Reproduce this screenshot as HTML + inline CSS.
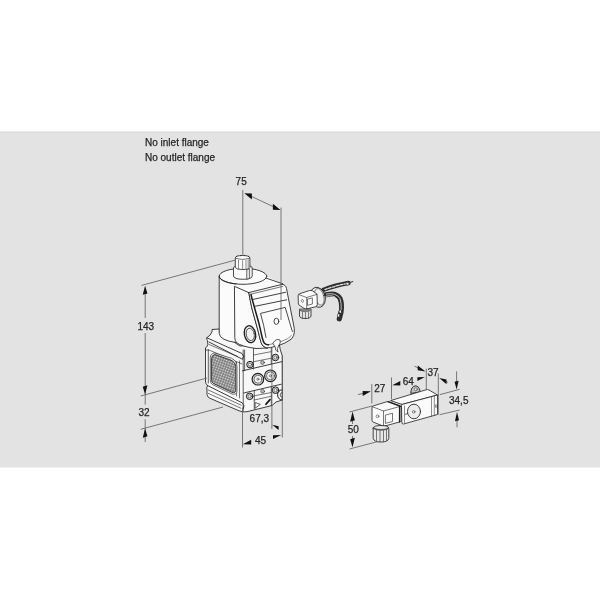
<!DOCTYPE html>
<html><head><meta charset="utf-8">
<style>
html,body{margin:0;padding:0;width:600px;height:600px;background:#fff;overflow:hidden}
#band{position:absolute;left:0;top:131px;width:600px;height:337px;background:linear-gradient(to bottom,#ececec 0,#ececec 1px,#dcdcdc 1px,#dcdcdc 2px,#e3e3e3 2px,#e3e3e3 336px,#efefef 336px)}
svg{position:absolute;left:0;top:0;will-change:transform}
text{font-family:"Liberation Sans",sans-serif;font-size:10px;fill:#262626;stroke:#262626;stroke-width:0.25px}
</style></head><body>
<div id="band"></div>
<svg width="600" height="600" viewBox="0 0 600 600">
<g id="labels">
<text x="145" y="146">No inlet flange</text>
<text x="145" y="160.7">No outlet flange</text>
</g>
<defs>
<pattern id="mesh" width="2.5" height="2.5" patternUnits="userSpaceOnUse" patternTransform="rotate(20)">
<rect width="2.6" height="2.6" fill="#5e5e5e"/><rect x="0.45" y="0.45" width="1.7" height="1.7" fill="#e2e2e2"/>
</pattern>
</defs>
<g id="body" stroke="#1e1e1e" stroke-width="0.85" fill="#f8f8f8" stroke-linejoin="round" stroke-linecap="round">
<!-- body silhouette -->
<path d="M219,329 L212,329.5 L212,331.75 L210.1,335.1 L206.75,337.75 Q206.5,339.5 207.5,340.75 L207.9,344.5 Q207.2,346.5 205.5,348 L205.5,381 Q205.5,384 207.5,385.5 Q206.3,388 207,390 L207,394.5 Q207.5,397.5 210,398.3 L239,410.8 Q243,412.5 247,411.7 L272,405.5 L276,402 L282.3,400 L282.3,356 Q280,350 279,343 L240,346 L220,333 Z"/>
<!-- top flange ribs -->
<path d="M206.9,337.8 L242,353.5 Q245,356 242.5,359.3 L209,342" fill="none"/>
<path d="M209,344.5 L237.5,356.5 M208.5,349.8 L242,364" fill="none" stroke-width="0.6"/>
<path d="M208.3,350 L208.3,383 M205.5,350 L208.3,350" fill="none" stroke-width="0.7"/>
<path d="M236.5,362 L236.5,396 M239.5,361 L239.5,398" fill="none" stroke-width="0.6"/>
<!-- mesh frame + mesh -->
<path d="M214,353 Q210.3,353.5 210.3,357.5 L210.3,381 Q210.3,383.5 213,384.8 L232,394 Q237,395.3 237,391 L237,366.5 Q237,361 232,358.5 Z" fill="#ececec" stroke-width="0.6"/>
<path d="M214.5,354.6 Q211.6,355.2 211.6,358.5 L211.6,380.5 Q211.6,382.5 214,383.7 L232,392.3 Q235.8,393.3 235.8,390.2 L235.8,367 Q235.8,362.3 231,360.2 Z" fill="url(#mesh)" stroke="#2a2a2a" stroke-width="0.9"/>
<!-- bottom flange -->
<path d="M207.5,385.5 L242,402.75 Q245.3,405 243.5,408.5" fill="none"/>
<path d="M208.3,390 L241.2,405.2 M208.3,393.4 L240.9,408.2" fill="none" stroke-width="0.6"/>
<!-- front face structure -->
<path d="M243.2,350 L243.2,411 M244.6,350 L244.6,370.5" fill="none" stroke-width="0.7"/>
<path d="M253.5,347 L253.5,369" fill="none" stroke-width="0.7"/>
<path d="M271.3,344 L271.3,364" fill="none" stroke-width="0.7"/>
<path d="M253.75,355 L270.8,351.7 M253.75,361.7 L270.8,358.3" fill="none" stroke-width="0.6"/>
<path d="M242.5,370.8 L281.7,361.7" fill="none"/>
<path d="M243.8,393 L281.3,384.2" fill="none"/>
<path d="M254.25,391 L254.25,409 M271.3,387 L271.3,405.5" fill="none" stroke-width="0.7"/>
<path d="M254.25,395.8 L271.3,392.5 M254.25,400 L271.3,396.25" fill="none" stroke-width="0.6"/>
<!-- screws -->
<g fill="#d6d6d6" stroke-width="1">
<circle cx="250" cy="364.6" r="3.3"/><circle cx="250" cy="364.6" r="1.6" fill="#eee" stroke-width="0.5"/>
<circle cx="275.4" cy="357.5" r="3.3"/><circle cx="275.4" cy="357.5" r="1.6" fill="#eee" stroke-width="0.5"/>
<circle cx="249.7" cy="396.3" r="3.3"/><circle cx="249.7" cy="396.3" r="1.6" fill="#eee" stroke-width="0.5"/>
<circle cx="275.5" cy="390.2" r="3.3"/><circle cx="275.5" cy="390.2" r="1.6" fill="#eee" stroke-width="0.5"/>
</g>
<circle cx="262.5" cy="362.5" r="1.9" fill="#bbb" stroke-width="0.5"/>
<circle cx="262.6" cy="391.3" r="1.9" fill="#bbb" stroke-width="0.5"/>
<!-- knobs -->
<circle cx="257.9" cy="379.2" r="5.8" fill="#dedede" stroke-width="1.15"/>
<circle cx="257.9" cy="379.2" r="3.9" fill="#f4f4f4" stroke-width="0.6"/>
<circle cx="257.9" cy="379.2" r="1.1" fill="none" stroke-width="0.5"/>
<circle cx="270.4" cy="375.8" r="5.8" fill="#dedede" stroke-width="1.15"/>
<circle cx="270.4" cy="375.8" r="3.9" fill="#f4f4f4" stroke-width="0.6"/>
<circle cx="270.4" cy="375.8" r="1.1" fill="none" stroke-width="0.5"/>
<!-- clip -->
<path d="M282.3,389.8 Q277.6,390.3 277.6,394.8 Q277.6,399.6 282.3,400" fill="none" stroke-width="1"/>
<path d="M282.3,392.3 Q280.2,392.7 280.2,394.9 Q280.2,397.2 282.3,397.5" fill="none" stroke-width="0.7"/>
<!-- symbols -->
<path d="M255.1,402.9 L255.1,408.3 L260,404.6 Z" fill="none" stroke-width="0.7"/>
<path d="M266,404.2 L270,399.6" stroke-width="1.8"/>
</g>
<g id="coil" stroke="#1e1e1e" stroke-width="0.85" fill="#fbfbfb" stroke-linejoin="round" stroke-linecap="round">
<!-- cylinder -->
<path d="M219.2,276.3 L219.2,333.5 Q220,340.5 236,342.5 L266.8,343 L266.8,276.3 Z" stroke="none"/>
<path d="M219.2,276.3 L219.2,333.5 Q220,340.5 236,342.5" fill="none"/>
<ellipse cx="243" cy="276.3" rx="23.8" ry="8"/>
<!-- housing top face -->
<path d="M234.8,286.5 L238,282 L266.8,276.3 L281.5,283.2 Q284,283.8 283,284.5 L248.4,292.4 Z" stroke="none"/>
<path d="M219.2,276.3 A23.8,8 0 0 0 266.8,276.3" fill="none"/>
<path d="M265.8,278 L281.5,283.4 Q284,283.8 283,284.5" fill="none"/>
<!-- housing left face -->
<path d="M234.8,286.5 L248.8,292.6 Q250.3,301 251.8,308 L257,327 Q258.8,333.5 259.8,338 Q261,344 263,346 Q265,348.3 268,348 L256,348.5 Q241,346.5 236.5,342.5 Q234.8,340.5 234.8,338 Z"/>
<!-- front face -->
<path d="M248.8,292.6 L282,284.4 Q285.5,284.4 286.5,288.5 L294.3,328.5 Q295,337 290,340 Q285,343.5 279,345.3 L270.5,347.6 Q265.5,348.6 263,346 Q261,344 259.8,338 Q258.8,333.5 257,327 L251.8,308 Q250.3,301 248.8,292.6 Z"/>
<path d="M251,294.5 Q252,299 252.8,301.5 L258.8,323 Q260.6,330 261.6,335 Q262.8,341 264.5,343.3 Q266,345 268.5,344.8" fill="none" stroke-width="1.5"/>
<path d="M250.8,294.2 L282.7,286.4" fill="none" stroke-width="0.6"/>
<!-- stripes -->
<path d="M252.2,299.6 L285.5,292.3 M254.6,306.4 L286.6,299.8" fill="none"/>
<!-- panel -->
<path d="M266,337.5 Q264,325 260.5,313.4 L285.2,307.4 L292.4,331.5" fill="none" stroke-width="0.8"/>
<path d="M268.5,344.8 L281,341.6 Q289,339 291.5,335.5" fill="none" stroke-width="0.5"/>
<ellipse cx="276.4" cy="321.3" rx="2.4" ry="3.1" fill="none" stroke-width="0.8"/>
<!-- port -->
<ellipse cx="250" cy="334.2" rx="5.6" ry="8.6" transform="rotate(-12 250 334.2)" stroke-width="1.3" fill="#f0f0f0"/>
<ellipse cx="250.3" cy="334.4" rx="4" ry="6.3" transform="rotate(-12 250.3 334.4)" fill="none" stroke="#3a3a3a" stroke-width="0.8"/>
<!-- bottom tab -->
<path d="M273,343 Q276,338 280,340 Q281,343 279,345 Q276,349 278,352 Q275,351 275,347 Z" stroke-width="0.7"/>
</g>
<g id="stem" stroke="#1e1e1e" stroke-width="0.8" fill="#fbfbfb" stroke-linejoin="round">
<path d="M233.5,268 L233.5,276 Q234,279.3 243,279.3 Q252,279.3 252.2,276 L252.2,268 Q252,265 243,265 Q234,265 233.5,268 Z"/>
<path d="M246.7,269.3 L249.6,268.8 L249.6,278.3 Q248,279 246.7,279.2 Z" fill="#e2e2e2" stroke-width="0.6"/>
<path d="M235.3,258 L235.3,267.5 Q236,269.5 242.6,269.5 Q249.5,269.5 249.9,267.5 L249.9,258 Q249.5,255.5 242.6,255.5 Q235.5,255.5 235.3,258 Z"/>
<path d="M235.6,258.4 Q242.6,260.5 249.6,258.4" fill="none" stroke-width="0.6"/>
<path d="M238.5,259.8 L238.5,268.8 M242.6,260.3 L242.6,269.4 M246,260 L246,269 M248.2,259.3 L248.2,268.3" fill="none" stroke-width="0.5"/>
<path d="M236,256.8 L237.5,255.8 M240,255.6 L241.5,255.5 M244,255.5 L245.5,255.6 M248,256 L249.3,256.8" fill="none" stroke-width="0.6"/>
</g>
<g id="connector" stroke="#1e1e1e" stroke-width="0.8" fill="#fbfbfb" stroke-linejoin="round" stroke-linecap="round">
<!-- wires: upper group -->
<g fill="none" stroke-linecap="round">
<path d="M323,290 Q334,285.5 348.5,283" stroke="#2e2e2e" stroke-width="4.4"/>
<path d="M325,289.6 Q334,286 347,283.5" stroke="#e0e0e0" stroke-width="1.3" stroke-dasharray="2.6 1.4"/>
<path d="M348,283 L352.8,281.6" stroke="#333" stroke-width="1"/>
<!-- lower group -->
<path d="M323,295.5 Q336,291.5 340,298.5 Q342.2,304 341,312 L339.3,318.8" stroke="#2e2e2e" stroke-width="5.2"/>
<path d="M325.5,296.3 Q334,294.2 337.2,299.5 Q339,304 338.7,310.5" stroke="#e4e4e4" stroke-width="0.9"/>
<path d="M326.5,294 Q336,292.3 340,298.5 Q341.6,303 341.2,309.5" stroke="#d8d8d8" stroke-width="0.9"/>
</g>
<ellipse cx="347.6" cy="283.8" rx="1.7" ry="1.2" fill="#f4f4f4" stroke-width="0.5"/>
<ellipse cx="340.4" cy="311.6" rx="1.2" ry="1.6" fill="#f4f4f4" stroke-width="0.5"/>
<ellipse cx="338.6" cy="315.4" rx="1.2" ry="1.6" fill="#f4f4f4" stroke-width="0.5"/>
<!-- cable gland -->
<path d="M299.5,309.5 L299.5,316 Q300,318.5 305,318.5 Q310.5,318.5 311,316 L311,309.5 Z" fill="#e3e3e3"/>
<path d="M302.5,310.5 L302.5,318 M305.5,311 L305.5,318.5 M308.5,310.5 L308.5,318" fill="none" stroke-width="0.5"/>
<path d="M299.8,309 Q305,311.5 310.7,309 L310.7,311 Q305,313.3 299.8,311 Z" fill="#777" stroke="none"/>
<!-- ring nut -->
<ellipse cx="317.8" cy="297.3" rx="7.4" ry="10.2" transform="rotate(-15 317.8 297.3)" fill="#efefef"/>
<ellipse cx="319.3" cy="296.8" rx="4.5" ry="8.6" transform="rotate(-15 319.3 296.8)" fill="none" stroke-width="0.5"/>
<!-- cube -->
<path d="M298.3,295 Q298.6,294 300,293.6 L309.5,290.5 Q311,290.2 312.5,290.8 L317,294.2 L317.3,304.8 Q317.3,306.2 315.5,306.8 L307,308.8 Q305.5,309 304,308.3 L299,305 Q298.3,304.5 298.3,303.5 Z"/>
<path d="M298.8,294.6 L306.7,297.5 L316.8,294.4 M306.7,297.5 L306.7,308.7" fill="none" stroke-width="0.6"/>
<path d="M307.9,299 L312.4,297.9 L312.4,304 L307.9,305.2 Z" fill="none" stroke-width="0.6"/>
<path d="M302.6,299.5 L303.8,301 L302.6,302.5 L301.4,301 Z" fill="none" stroke-width="0.5"/>
</g>
<g id="rightdiag" stroke="#1e1e1e" stroke-width="0.8" fill="#fbfbfb" stroke-linejoin="round" stroke-linecap="round">
<!-- nub -->
<path d="M410.8,393 Q411,386.5 415.2,385.8 Q418.8,385.8 420,390.5 L418.5,392 Z" fill="#c4c4c4" stroke-width="0.9"/>
<circle cx="415.8" cy="389.3" r="1.5" fill="#eee" stroke-width="0.5"/>
<!-- valve top face -->
<path d="M391,400.5 L426,389.8 Q427.5,389.3 429,390 L437.5,395 L402.5,404.3 Z"/>
<!-- valve front face -->
<path d="M402.5,404.3 L437.5,395 L437.5,414.5 L403.5,424 Q401.8,424.3 401.8,422 L401.5,405.5 Z"/>
<path d="M431.5,397 L431.5,416 M434.3,396 L434.3,415.3" fill="none" stroke-width="0.5"/>
<path d="M404.5,406 L404.5,422.5" fill="none" stroke-width="0.5"/>
<ellipse cx="414" cy="411.5" rx="6.5" ry="7.3" fill="#ececec" stroke-width="0.85"/>
<circle cx="413.7" cy="411.8" r="1.3" fill="none" stroke-width="0.5"/>
<path d="M405.3,414.3 L407.5,413.6" fill="none" stroke-width="0.7"/>
<rect x="435.7" y="405" width="1.6" height="2.2" fill="none" stroke-width="0.5"/>
<!-- connector cube -->
<path d="M372,407 Q372,406.2 373,406 L386.5,401.8 Q388,401.5 389.5,402 L399.5,405.5 Q401,406.2 401,407.5 L401,420.5 Q401,421.5 400,421.8 L385,426 Q383.5,426.3 382.5,425.8 L373,422 Q372,421.5 372,420.5 Z"/>
<path d="M372.5,406.8 L383.5,411 L400.5,406.3 M383.5,411 L383.5,426" fill="none" stroke-width="0.6"/>
<path d="M399.5,405.5 L399.5,422" fill="none" stroke-width="1.2"/>
<path d="M388,401.6 L400.5,406.5" fill="none" stroke-width="1.3"/>
<circle cx="377.5" cy="416.3" r="1.4" fill="none" stroke-width="0.5"/>
<path d="M385.8,415 L392.5,413.2 L392.5,421.5 L385.8,423.3 Z" fill="none" stroke-width="0.6"/>
<!-- cable gland -->
<path d="M373.2,428 L373.2,438.5 Q374,442 381,442 Q388,442 388.8,438.5 L388.8,428 Q388,425.5 381,425.5 Q374,425.5 373.2,428 Z" fill="#e8e8e8"/>
<path d="M374,427.5 Q381,430.5 388,427.5 L388,429.5 Q381,432 374,429.5 Z" fill="#888" stroke="none"/>
<path d="M373.5,428.5 Q381,431.5 388.5,428.5" fill="none" stroke-width="0.5"/>
<path d="M376.5,430 L376.5,440.5 M380,430.8 L380,441.8 M383.5,430.8 L383.5,441.8 M386.5,430 L386.5,440.5" fill="none" stroke-width="0.7" stroke="#444"/>
</g>

<g id="dims" stroke="#5a5a5a" stroke-width="0.8" fill="none">
<line x1="242.80" y1="190.00" x2="242.80" y2="256.00"/>
<line x1="281.00" y1="207.50" x2="281.00" y2="320.00"/>
<line x1="251.00" y1="196.20" x2="274.00" y2="207.00"/>
<line x1="145.20" y1="292.00" x2="145.20" y2="318.00"/>
<line x1="145.20" y1="333.00" x2="145.20" y2="404.70"/>
<line x1="145.20" y1="419.30" x2="145.20" y2="442.00"/>
<line x1="141.50" y1="285.40" x2="235.30" y2="260.10"/>
<line x1="140.70" y1="396.00" x2="207.00" y2="378.00"/>
<line x1="140.70" y1="429.30" x2="223.00" y2="407.00"/>
<line x1="242.50" y1="407.50" x2="242.50" y2="447.50"/>
<line x1="271.90" y1="347.00" x2="271.90" y2="429.00"/>
<line x1="282.30" y1="356.00" x2="282.30" y2="437.50"/>
<line x1="371.80" y1="384.00" x2="371.80" y2="403.50"/>
<line x1="358.00" y1="394.60" x2="363.00" y2="393.40"/>
<line x1="391.50" y1="377.50" x2="391.50" y2="399.30"/>
<line x1="426.30" y1="368.70" x2="426.30" y2="390.00"/>
<line x1="414.50" y1="366.10" x2="418.00" y2="367.90"/>
<line x1="438.30" y1="373.50" x2="438.30" y2="414.70"/>
<line x1="446.00" y1="381.60" x2="448.00" y2="382.40"/>
<line x1="456.60" y1="371.30" x2="456.60" y2="383.00"/>
<line x1="439.70" y1="394.70" x2="459.70" y2="389.30"/>
<line x1="439.70" y1="414.70" x2="459.70" y2="410.00"/>
<line x1="457.00" y1="419.00" x2="457.00" y2="427.30"/>
<line x1="352.50" y1="420.00" x2="352.50" y2="424.00"/>
<line x1="352.50" y1="436.00" x2="352.50" y2="440.00"/>
<line x1="349.50" y1="412.00" x2="372.00" y2="406.00"/>
<line x1="349.50" y1="449.00" x2="378.00" y2="441.50"/>
</g>
<g id="arrows">
<polygon points="244.30,193.30 251.90,199.60 251.90,193.60" fill="#111"/>
<polygon points="280.50,210.10 272.90,209.80 272.90,203.80" fill="#111"/>
<polygon points="145.10,285.80 147.47,293.56 142.73,294.84" fill="#111"/>
<polygon points="145.10,394.30 147.47,385.36 142.73,386.64" fill="#111"/>
<polygon points="145.10,428.60 147.47,436.36 142.73,437.64" fill="#111"/>
<polygon points="272.20,424.80 278.60,430.10 278.60,426.30" fill="#111"/>
<polygon points="242.80,444.30 251.20,444.40 251.20,439.80" fill="#111"/>
<polygon points="281.20,435.00 273.00,439.00 273.00,435.20" fill="#111"/>
<polygon points="370.90,391.30 362.70,396.00 362.70,391.00" fill="#111"/>
<polygon points="392.20,385.30 400.30,385.50 400.30,380.90" fill="#111"/>
<polygon points="424.90,376.90 417.40,380.90 417.40,377.30" fill="#111"/>
<polygon points="425.50,371.50 417.70,370.30 417.70,365.50" fill="#111"/>
<polygon points="439.20,378.10 446.50,384.20 446.50,379.40" fill="#111"/>
<polygon points="456.60,389.50 458.63,380.75 454.57,381.85" fill="#111"/>
<polygon points="457.00,412.00 459.03,420.15 454.97,421.25" fill="#111"/>
<polygon points="352.50,411.60 354.87,420.36 350.13,421.64" fill="#111"/>
<polygon points="352.50,447.20 354.87,437.86 350.13,439.14" fill="#111"/>
</g>
<g id="dimtext">
<text x="235.6" y="185">75</text>
<text x="137.5" y="330">143</text>
<text x="138.5" y="416">32</text>
<text x="249.6" y="421.5">67,3</text>
<text x="255" y="444">45</text>
<text x="374.3" y="391.5">27</text>
<text x="402.8" y="384.7">64</text>
<text x="427.5" y="376.3">37</text>
<text x="449" y="404">34,5</text>
<text x="347.8" y="433">50</text>
</g>
</svg>
</body></html>
